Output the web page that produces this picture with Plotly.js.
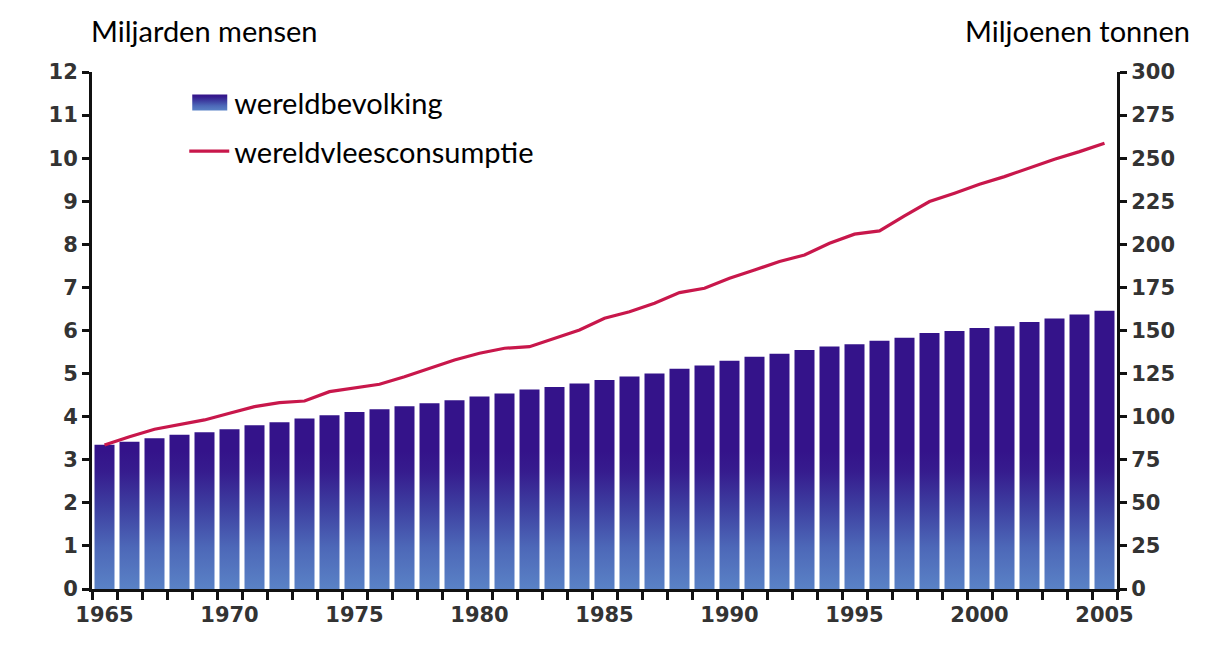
<!DOCTYPE html>
<html>
<head>
<meta charset="utf-8">
<script src="https://cdn.plot.ly/plotly-3.0.1.min.js"></script>
<style>
  html, body { margin: 0; padding: 0; background: #ffffff; }
  #chart { width: 1214px; height: 645px; }
</style>
</head>
<body>
<div id="chart"></div>
<script>
// ---- data ----
const years = [1965,1966,1967,1968,1969,1970,1971,1972,1973,1974,
               1975,1976,1977,1978,1979,1980,1981,1982,1983,1984,
               1985,1986,1987,1988,1989,1990,1991,1992,1993,1994,
               1995,1996,1997,1998,1999,2000,2001,2002,2003,2004,2005];

// world population, billions (left axis)
const population = [3.35,3.42,3.50,3.58,3.64,3.71,3.80,3.87,3.96,4.03,
                    4.11,4.17,4.24,4.31,4.38,4.47,4.54,4.63,4.69,4.77,
                    4.85,4.93,5.00,5.11,5.19,5.30,5.39,5.46,5.55,5.63,
                    5.68,5.76,5.83,5.94,5.99,6.06,6.10,6.20,6.28,6.37,6.46];

// world meat consumption, million tonnes (right axis)
const meat = [83.6,88.4,92.7,95.2,98.1,102.0,105.8,108.1,109.1,114.5,
              116.5,118.8,123.2,128.1,132.9,136.8,139.7,140.6,145.5,150.3,
              157.1,160.9,165.8,172.0,174.5,180.3,185.1,190.0,193.8,200.6,
              205.9,207.8,216.5,224.8,229.7,234.9,239.3,244.2,249.4,253.8,258.7];

const xLabelYears = [1965,1970,1975,1980,1985,1990,1995,2000,2005];
const leftTicks = [0,1,2,3,4,5,6,7,8,9,10,11,12];
const rightTicks = [0,25,50,75,100,125,150,175,200,225,250,275,300];

const seriesNames = ['wereldbevolking', 'wereldvleesconsumptie'];
const leftTitle = 'Miljarden mensen';
const rightTitle = 'Miljoenen tonnen';

// ---- style ----
const tickFont = { family: 'DejaVu Sans, Arial, sans-serif', size: 21, color: '#333333', weight: 'bold' };
const textFont = { family: 'Lato, Noto Sans, sans-serif', size: 29, color: '#000000' };
const axisColor = '#111111';

const traces = [
  {
    type: 'bar',
    name: seriesNames[0],
    x: years,
    y: population,
    xaxis: 'x',
    yaxis: 'y',
    marker: { color: '#3a2a94', line: { width: 0 } },
    legendgroup: 'a',
    hoverinfo: 'skip'
  },
  {
    type: 'scatter',
    mode: 'lines',
    name: seriesNames[1],
    x: years,
    y: meat,
    xaxis: 'x',
    yaxis: 'y2',
    line: { color: '#c8174b', width: 3.2 },
    legendgroup: 'b',
    hoverinfo: 'skip'
  }
];

const layout = {
  width: 1214,
  height: 645,
  margin: { l: 92, r: 97, t: 72, b: 56 },
  paper_bgcolor: '#ffffff',
  plot_bgcolor: '#ffffff',
  bargap: 0.2,
  showlegend: true,
  legend: {
    x: 0.09, y: 0.99, xanchor: 'left', yanchor: 'top',
    font: textFont,
    bgcolor: 'rgba(0,0,0,0)',
    traceorder: 'grouped',
    tracegroupgap: 8,
    itemwidth: 40
  },
  xaxis: {
    range: [1964.5, 2005.5],
    tickmode: 'array',
    tickvals: xLabelYears,
    ticktext: xLabelYears.map(String),
    ticks: '',
    ticklabelstandoff: 5,
    tickfont: tickFont,
    showline: true, linecolor: axisColor, linewidth: 3,
    showgrid: false, zeroline: false,
    fixedrange: true,
    minor: { tick0: 1964.5, dtick: 1, ticks: 'outside', ticklen: 8, tickwidth: 3, tickcolor: axisColor, showgrid: false }
  },
  yaxis: {
    range: [0, 12],
    tickmode: 'array',
    tickvals: leftTicks,
    ticks: 'outside', ticklen: 7, tickwidth: 3, tickcolor: axisColor,
    tickfont: tickFont,
    showline: true, linecolor: axisColor, linewidth: 3,
    showgrid: false, zeroline: false,
    fixedrange: true
  },
  yaxis2: {
    range: [0, 300],
    overlaying: 'y',
    side: 'right',
    tickmode: 'array',
    tickvals: rightTicks,
    ticks: 'outside', ticklen: 7, tickwidth: 3, tickcolor: axisColor,
    tickfont: tickFont,
    showline: true, linecolor: axisColor, linewidth: 3,
    showgrid: false, zeroline: false,
    fixedrange: true
  },
  annotations: [
    { text: leftTitle, xref: 'paper', yref: 'paper', x: 0, y: 1, xanchor: 'left', yanchor: 'bottom',
      xshift: -3, yshift: 22, showarrow: false, font: textFont },
    { text: rightTitle, xref: 'paper', yref: 'paper', x: 1, y: 1, xanchor: 'right', yanchor: 'bottom',
      xshift: 75, yshift: 22, showarrow: false, font: textFont }
  ]
};

const gd = document.getElementById('chart');
Plotly.newPlot(gd, traces, layout, { staticPlot: true, displayModeBar: false }).then(applyGradient);

function applyGradient() {
  const ns = 'http://www.w3.org/2000/svg';
  const ya = gd._fullLayout.yaxis;
  const svg = gd.querySelector('svg.main-svg');
  let defs = svg.querySelector('defs');
  if (!defs) { defs = document.createElementNS(ns, 'defs'); svg.insertBefore(defs, svg.firstChild); }

  const stops = [
    [0.00, '#5a82c6'],
    [0.30, '#4d68b8'],
    [0.60, '#3d3ea0'],
    [0.85, '#361c8e'],
    [1.00, '#34138a']
  ];
  function makeGrad(id, units, y1, y2) {
    const lg = document.createElementNS(ns, 'linearGradient');
    lg.setAttribute('id', id);
    lg.setAttribute('gradientUnits', units);
    lg.setAttribute('x1', 0); lg.setAttribute('x2', 0);
    lg.setAttribute('y1', y1); lg.setAttribute('y2', y2);
    stops.forEach(s => {
      const st = document.createElementNS(ns, 'stop');
      st.setAttribute('offset', s[0]);
      st.setAttribute('stop-color', s[1]);
      lg.appendChild(st);
    });
    defs.appendChild(lg);
  }
  makeGrad('popGrad', 'userSpaceOnUse', ya.l2p(0), ya.l2p(3.2));
  makeGrad('popGradLegend', 'objectBoundingBox', 1, 0);

  gd.querySelectorAll('.barlayer .point path').forEach(p => {
    p.style.fill = 'url(#popGrad)';
  });
  gd.querySelectorAll('.legend .traces').forEach(t => {
    const paths = t.querySelectorAll('.legendpoints path');
    paths.forEach(p => {
      if (p.closest('.legendbar') || (p.style.fill && p.style.fill.indexOf('rgb(58, 42, 148)') >= 0)) {
        p.setAttribute('d', 'M18,8H-17V-8H18Z');
        p.style.fill = 'url(#popGradLegend)';
        p.style.stroke = 'none';
      }
    });
  });
}
</script>
</body>
</html>
